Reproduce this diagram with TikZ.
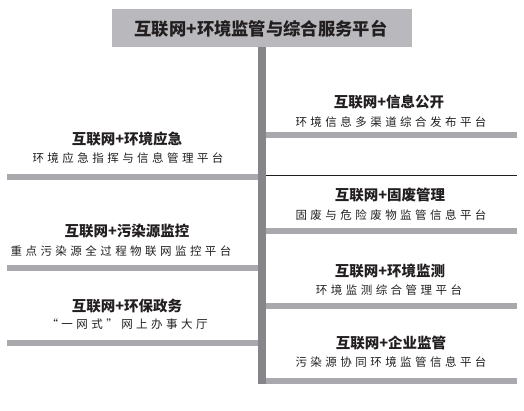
\documentclass[tikz,border=0pt]{standalone}
\usepackage{fontspec}
\newfontfamily\cjk{Noto Sans CJK SC}
\newfontfamily\cjksub{Noto Sans CJK SC}[LetterSpace=30]
\definecolor{titlegray}{HTML}{B9B9BD}
\definecolor{vgray}{HTML}{86868A}
\definecolor{hgray}{HTML}{A9A9AD}
\definecolor{ink}{HTML}{231F20}
\tikzset{
  head/.style={inner sep=0pt, text=ink, font=\cjk\bfseries\fontsize{14.5}{16}\selectfont},
  sub/.style={inner sep=0pt, text=ink, font=\cjksub\fontsize{11.5}{13}\selectfont},
  ttl/.style={inner sep=0pt, text=ink, font=\cjk\bfseries\fontsize{17.3}{19}\selectfont},
}
\begin{document}
\begin{tikzpicture}[x=1pt,y=-1pt]
\useasboundingbox (0,0) rectangle (524,411);
% title box and trunk
\fill[titlegray] (112,9) rectangle (412,47);
\node[ttl] (title) at (261,28.5) {互联网+环境监管与综合服务平台};
\fill[vgray] (258,47) rectangle (266,384);
% left bars
\fill[hgray] (7,174) rectangle (258,180);
\fill[hgray] (7,265) rectangle (258,271);
\fill[hgray] (7,340) rectangle (258,346);
% right bars
\fill[hgray] (266,132) rectangle (517,138);
\draw[ink, line width=1.2pt] (266,175.5) -- (517,175.5);
\fill[hgray] (266,228) rectangle (517,234);
\fill[hgray] (266,303) rectangle (517,309);
\fill[hgray] (266,378) rectangle (517,384);
% left texts
\node[head] (l1h) at (127,139) {互联网+环境应急};
\node[sub]  (l1s) at (128,158.5) {环境应急指挥与信息管理平台};
\node[head] (l2h) at (127,231.5) {互联网+污染源监控};
\node[sub]  (l2s) at (121,251.5) {重点污染源全过程物联网监控平台};
\node[head] (l3h) at (127,306.5) {互联网+环保政务};
\node[sub]  (l3s) at (127,324.5) {“一网式”网上办事大厅};
% right texts
\node[head] (r1h) at (389,102.5) {互联网+信息公开};
\node[sub]  (r1s) at (391,122.5) {环境信息多渠道综合发布平台};
\node[head] (r2h) at (390,195) {互联网+固废管理};
\node[sub]  (r2s) at (391,215.5) {固废与危险废物监管信息平台};
\node[head] (r3h) at (390,271.5) {互联网+环境监测};
\node[sub]  (r3s) at (389,290.5) {环境监测综合管理平台};
\node[head] (r4h) at (391,343.5) {互联网+企业监管};
\node[sub]  (r4s) at (391,362.5) {污染源协同环境监管信息平台};
\end{tikzpicture}
\end{document}
